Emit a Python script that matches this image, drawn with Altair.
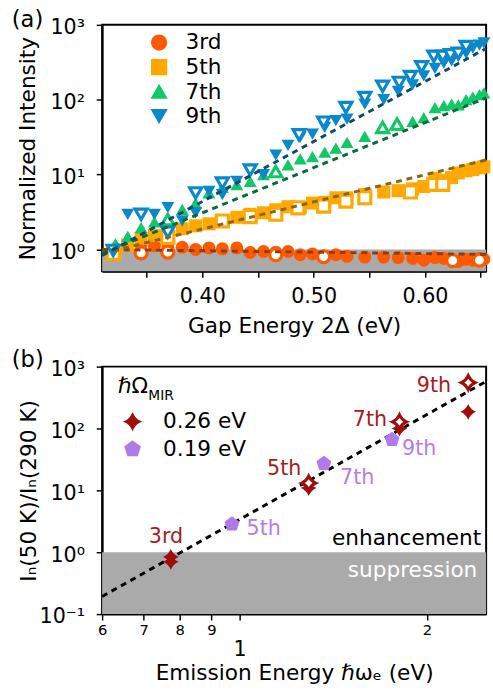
import altair as alt
import pandas as pd

FONT = "DejaVu Sans"
W, HA, HB = 391, 251, 252

# ---------------- panel (a) data ----------------
HARMONICS = ["3rd", "5th", "7th", "9th"]
COLORS_A = ["#FF5A00", "#FFA800", "#12C866", "#0A88CC"]
FIT_COLORS_A = ["#8F3D0C", "#8C6414", "#0B6A3A", "#0D4B6E"]
SHAPES_A = ["circle", "square", "triangle-up", "triangle-down"]

E_FILLED = [0.322, 0.333, 0.345, 0.357, 0.369, 0.382, 0.394, 0.406, 0.418, 0.431,
            0.443, 0.455, 0.466, 0.477, 0.488, 0.499, 0.510, 0.520, 0.530, 0.546,
            0.563, 0.576, 0.589, 0.599, 0.609, 0.617, 0.624, 0.630, 0.637, 0.643,
            0.649, 0.653]
I3_FILLED = [1.02, 1.13, 1.15, 1.12, 1.07, 1.07, 1.00, 1.05, 1.02, 1.05,
             0.91, 0.94, 0.92, 0.94, 0.85, 0.87, 0.81, 0.85, 0.81, 0.79,
             0.79, 0.78, 0.76, 0.72, 0.78, 0.76, 0.72, 0.69, 0.74, 0.72,
             0.76, 0.74]
I5_FILLED = [0.92, 1.15, 1.41, 1.53, 1.55, 1.89, 2.07, 2.20, 2.40, 2.69,
             2.95, 3.09, 3.39, 3.72, 3.61, 4.17, 4.27, 4.90, 4.90, 5.41,
             5.85, 6.10, 6.46, 6.92, 8.91, 8.32, 9.12, 10.5, 11.2, 11.7,
             12.3, 12.7]
I7_FILLED = [1.20, 1.50, 1.95, 2.34, 2.66, 3.43, 4.17, 5.68, 6.76, 7.33,
             8.13, 10.0, 11.5, 13.5, 16.2, 17.4, 20.0, 22.6, 26.9, 32.4,
             41.7, 45.7, 51.3, 57.5, 78.5, 83.2, 87.1, 85.1, 100, 108,
             117, 123]
I9_FILLED = [None, 2.95, None, 2.95, 3.61, 2.40, 3.09, 5.97, 5.41, 8.13,
             11.5, 10.0, 18.2, 24.5, 31.6, 34.7, 42.7, 52.5, 55.0, 87.1,
             100, 129, 158, 209, 263, 309, 331, 376, 417, 490,
             537, 575]

E3_OPEN = [0.320, 0.345, 0.369, 0.466, 0.509, 0.625, 0.649]
I3_OPEN = [0.88, 0.90, 0.92, 0.85, 0.80, 0.71, 0.72]
E5_OPEN = [0.320, 0.369, 0.418, 0.443, 0.466, 0.486, 0.509, 0.529, 0.546, 0.587, 0.608, 0.616]
I5_OPEN = [0.89, 1.45, 2.40, 2.75, 2.95, 3.60, 3.80, 4.42, 4.90, 5.85, 7.41, 7.41]
E7_OPEN = [0.369, 0.466, 0.562, 0.575]
I7_OPEN = [2.51, 11.0, 42.7, 47.3]
E9_OPEN = [0.320, 0.345, 0.369, 0.394, 0.418, 0.443, 0.487, 0.509, 0.529, 0.546,
           0.562, 0.577, 0.587, 0.597, 0.608, 0.616, 0.623, 0.630, 0.637]
I9_OPEN = [0.97, 2.95, 1.70, 5.68, 7.69, 11.5, 33.9, 50.1, 78.5, 107,
           151, 170, 204, 275, 380, 380, 398, 417, 513]

FIT_E_A = [0.31, 0.655]
FIT_A = {"3rd": [1.00, 0.86], "5th": [0.886, 15.7], "7th": [0.886, 106], "9th": [0.83, 483]}

BAND_A = [0.51, 1.0]

# ---------------- panel (b) data ----------------
GROUPS = ["0.26 eV", "0.19 eV"]
COLORS_B = ["#A00D0D", "#B07AE8"]
LABEL_COLORS_B = ["#A41C1C", "#B57CEB"]
STAR = "M0,-1 Q0.3,-0.3 1,0 Q0.3,0.3 0,1 Q-0.3,0.3 -1,0 Q-0.3,-0.3 0,-1 Z"
PENT = "M0,-1 L0.951,-0.309 L0.588,0.809 L-0.588,0.809 L-0.951,-0.309 Z"

E26_FILLED = [0.774, 0.774, 1.29, 1.806, 2.33]
I26_FILLED = [0.84, 0.70, 10.9, 100, 186]
E26_OPEN = [1.29, 1.806, 2.33]
I26_OPEN = [13.1, 128, 552]
E19 = [0.971, 1.365, 1.757]
I19 = [2.85, 27.1, 66]

FIT_E_B = [0.6, 2.49]
FIT_B = [0.193, 577]
BAND_B = [0.1, 1.0]

LAB26 = ["3rd", "5th", "7th", "9th"]
LAB26_E = [0.760, 1.178, 1.619, 2.052]
LAB26_V = [1.73, 22.4, 139, 482]
LAB19 = ["5th", "7th", "9th"]
LAB19_E = [1.092, 1.544, 1.943]
LAB19_V = [2.40, 15.5, 46.4]

TICKS_XA = [0.35, 0.40, 0.45, 0.50, 0.55, 0.60, 0.65]
TICKS_XB = [0.6, 0.7, 0.8, 0.9, 1.0, 2.0]
BIG_TICK_B = [1.0]

# ---------------- tables ----------------
def rows(h, es, vs):
    return [{"E": e, "v": v, "h": h} for e, v in zip(es, vs) if v is not None]

filled_a = pd.DataFrame(rows("3rd", E_FILLED, I3_FILLED) + rows("5th", E_FILLED, I5_FILLED)
                        + rows("7th", E_FILLED, I7_FILLED) + rows("9th", E_FILLED, I9_FILLED))
open_a = pd.DataFrame(rows("3rd", E3_OPEN, I3_OPEN) + rows("5th", E5_OPEN, I5_OPEN)
                      + rows("7th", E7_OPEN, I7_OPEN) + rows("9th", E9_OPEN, I9_OPEN))

# ---------------- encodings (a) ----------------
xa = alt.X("E:Q", scale=alt.Scale(domain=[0.31, 0.655], nice=False, zero=False),
           axis=alt.Axis(values=TICKS_XA, title="Gap Energy 2Δ (eV)",
                         labelExpr="(round(datum.value*100) % 10 == 0) ? format(datum.value, '.2f') : ''",
                         labelBaseline="alphabetic", labelPadding=26, labelFlush=False,
                         labelOverlap=False, titleY=62, titleBaseline="alphabetic"))
ya = alt.Y("v:Q", scale=alt.Scale(type="log", domain=BAND_A[:1] + [1000], nice=False),
           axis=alt.Axis(values=[1, 10, 100, 1000], title="Normalized Intensity",
                         labelExpr="'10' + ['⁰','¹','²','³'][round(log(datum.value)/LN10)]",
                         labelPadding=12, labelOffset=3, labelFlush=False, labelOverlap=False,
                         titleX=-76, titleY=HA / 2, titleAngle=270, titleAlign="center",
                         titleBaseline="middle"))

legend_a = alt.Legend(orient="none", legendX=47, legendY=7, title=None, labelFontSize=22,
                      symbolSize=225, labelOffset=16, rowPadding=3, padding=0)
col_a = alt.Color("h:N", scale=alt.Scale(domain=HARMONICS, range=COLORS_A), legend=legend_a)
shp_a = alt.Shape("h:N", scale=alt.Scale(domain=HARMONICS, range=SHAPES_A), legend=legend_a)

band_a = alt.Chart(pd.DataFrame({"v": [BAND_A[0]], "v2": [BAND_A[1]]})).mark_rect(
    color="#AAAAAA").encode(x=alt.value(0), x2=alt.value(W), y=ya, y2="v2:Q")

pts_a = alt.Chart(filled_a).mark_point(filled=True, size=175, opacity=1).encode(
    x=xa, y=ya, color=col_a, shape=shp_a)
opn_a = alt.Chart(open_a).mark_point(filled=False, fill="white", size=150, strokeWidth=3.2,
                                     opacity=1).encode(x=xa, y=ya, color=col_a, shape=shp_a)

fit_layers = []
for h, c in zip(HARMONICS, FIT_COLORS_A):
    df = pd.DataFrame({"E": FIT_E_A, "v": FIT_A[h]})
    fit_layers.append(alt.Chart(df).mark_line(color=c, strokeWidth=3, strokeDash=[6, 5]).encode(
        x=xa, y=ya))

lab_a = alt.Chart(pd.DataFrame({"t": ["(a)"]})).mark_text(
    fontSize=23, align="left", baseline="alphabetic").encode(
    text="t:N", x=alt.value(-92), y=alt.value(2))

top = alt.layer(band_a, pts_a, opn_a, *fit_layers, lab_a).properties(width=W, height=HA)

# ---------------- encodings (b) ----------------
xb_scale = alt.Scale(type="log", domain=[0.6, 2.49], nice=False)
xb = alt.X("E:Q", scale=xb_scale,
           axis=alt.Axis(values=TICKS_XB, title="Emission Energy ℏωₑ (eV)",
                         labelExpr="datum.value == 1 ? '' : (datum.value < 1 ? format(datum.value*10, '.0f') : format(datum.value, '.0f'))",
                         labelFontSize=15, labelBaseline="alphabetic", labelPadding=15,
                         labelFlush=False, labelOverlap=False, titleY=67,
                         titleBaseline="alphabetic"))
yb = alt.Y("v:Q", scale=alt.Scale(type="log", domain=[BAND_B[0], 1000], nice=False),
           axis=alt.Axis(values=[0.1, 1, 10, 100, 1000], title="Iₙ(50 K)/Iₙ(290 K)",
                         labelExpr="'10' + ['⁻¹','⁰','¹','²','³'][round(log(datum.value)/LN10)+1]",
                         labelPadding=12, labelOffset=3, labelFlush=False, labelOverlap=False,
                         titleX=-75, titleY=HB / 2, titleAngle=270, titleAlign="center",
                         titleBaseline="middle"))

legend_b = alt.Legend(orient="none", legendX=20, legendY=45, title=None, labelFontSize=22,
                      symbolSize=256, labelOffset=20, rowPadding=6, padding=0)
col_b = alt.Color("g:N", scale=alt.Scale(domain=GROUPS, range=COLORS_B), legend=legend_b)
shp_b = alt.Shape("g:N", scale=alt.Scale(domain=GROUPS, range=[STAR, PENT]), legend=legend_b)

filled_b = pd.DataFrame([{"E": e, "v": v, "g": GROUPS[0]} for e, v in zip(E26_FILLED, I26_FILLED)]
                        + [{"E": e, "v": v, "g": GROUPS[1]} for e, v in zip(E19, I19)])
open_b = pd.DataFrame([{"E": e, "v": v, "g": GROUPS[0]} for e, v in zip(E26_OPEN, I26_OPEN)])

band_b = alt.Chart(pd.DataFrame({"v": [BAND_B[0]], "v2": [BAND_B[1]]})).mark_rect(
    color="#AAAAAA").encode(x=alt.value(0), x2=alt.value(W), y=yb, y2="v2:Q")
fit_b = alt.Chart(pd.DataFrame({"E": FIT_E_B, "v": FIT_B})).mark_line(
    color="black", strokeWidth=3, strokeDash=[6, 5]).encode(x=xb, y=yb)
pts_b = alt.Chart(filled_b).mark_point(filled=True, size=256, opacity=1).encode(
    x=xb, y=yb, color=col_b, shape=shp_b)
opn_b = alt.Chart(open_b).mark_point(filled=False, fill="white", size=200, strokeWidth=3,
                                     opacity=1).encode(x=xb, y=yb, color=col_b, shape=shp_b)

lab26 = alt.Chart(pd.DataFrame({"E": LAB26_E, "v": LAB26_V, "t": LAB26})).mark_text(
    fontSize=21, color=LABEL_COLORS_B[0]).encode(x=xb, y=yb, text="t:N")
lab19 = alt.Chart(pd.DataFrame({"E": LAB19_E, "v": LAB19_V, "t": LAB19})).mark_text(
    fontSize=21, color=LABEL_COLORS_B[1]).encode(x=xb, y=yb, text="t:N")

one_lab = alt.Chart(pd.DataFrame({"E": BIG_TICK_B, "t": ["1"]})).mark_text(
    fontSize=21, baseline="alphabetic").encode(x=xb, y=alt.value(295), text="t:N")

enh = alt.Chart(pd.DataFrame({"t": ["enhancement"]})).mark_text(
    fontSize=22, align="right", baseline="alphabetic", color="black").encode(
    text="t:N", x=alt.value(386), y=alt.value(182))
sup = alt.Chart(pd.DataFrame({"t": ["suppression"]})).mark_text(
    fontSize=22, align="right", baseline="alphabetic", color="white").encode(
    text="t:N", x=alt.value(382), y=alt.value(214))

omega = alt.Chart(pd.DataFrame({"t": ["ℏΩ"]})).mark_text(
    fontSize=22, align="left", baseline="alphabetic").encode(
    text="t:N", x=alt.value(16), y=alt.value(27))
mir = alt.Chart(pd.DataFrame({"t": ["MIR"]})).mark_text(
    fontSize=14, align="left", baseline="alphabetic").encode(
    text="t:N", x=alt.value(47), y=alt.value(34))

lab_b = alt.Chart(pd.DataFrame({"t": ["(b)"]})).mark_text(
    fontSize=23, align="left", baseline="alphabetic").encode(
    text="t:N", x=alt.value(-92), y=alt.value(0))

bottom = alt.layer(band_b, fit_b, pts_b, opn_b, lab26, lab19, one_lab, enh, sup,
                   omega, mir, lab_b).properties(width=W, height=HB)

chart = alt.vconcat(top, bottom, spacing=97, bounds="flush").resolve_scale(
    color="independent", shape="independent", x="independent", y="independent"
).resolve_legend(color="independent", shape="independent").properties(
    padding={"left": 11, "top": 2, "right": 0, "bottom": 0}
).configure_view(stroke="black", strokeWidth=2).configure_axis(
    grid=False, domainColor="black", domainWidth=2, tickColor="black", tickWidth=1.5,
    tickSize=6, labelFont=FONT, labelFontSize=21, labelColor="black",
    titleFont=FONT, titleFontSize=22, titleFontWeight="normal", titleColor="black"
).configure_legend(labelFont=FONT, labelColor="black").configure_text(font=FONT)

chart.save("out.html", embed_options={"renderer": "svg", "actions": False})
